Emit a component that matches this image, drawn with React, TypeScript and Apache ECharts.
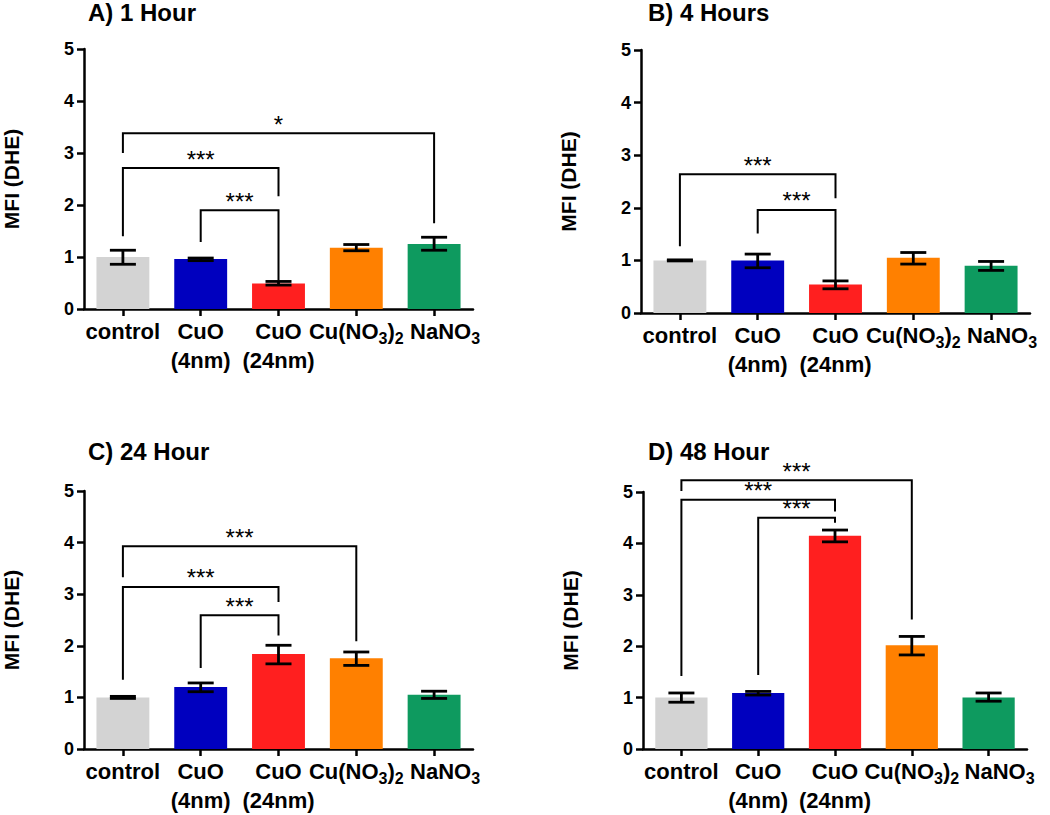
import React, { useEffect, useRef } from 'react';
import * as echarts from 'echarts';

const FONT = '"Liberation Sans", Arial, sans-serif';

const categories = ['control', 'CuO (4nm)', 'CuO (24nm)', 'Cu(NO3)2', 'NaNO3'];
const categoryLabels = [
  'control',
  'CuO\n(4nm)',
  'CuO\n(24nm)',
  '{m|Cu(NO}{s|3}{m|)}{s|2}',
  '{mr|NaNO}{s|3}',
];
const barColors = ['#d3d3d3', '#0000bf', '#ff1f1f', '#ff8000', '#0e9a5f'];
const panelTitles = ['A) 1 Hour', 'B) 4 Hours', 'C) 24 Hour', 'D) 48 Hour'];
const yAxisName = 'MFI (DHE)';

// Panel A – 1 hour
const meanA = [1.0, 0.96, 0.49, 1.18, 1.25];
const lowA = [0.86, 0.93, 0.46, 1.12, 1.13];
const highA = [1.13, 0.98, 0.53, 1.24, 1.38];
// Panel B – 4 hours
const meanB = [1.0, 1.0, 0.54, 1.05, 0.9];
const lowB = [0.99, 0.86, 0.46, 0.93, 0.81];
const highB = [1.01, 1.12, 0.61, 1.15, 0.98];
// Panel C – 24 hours
const meanC = [1.0, 1.2, 1.84, 1.76, 1.05];
const lowC = [0.98, 1.11, 1.65, 1.62, 0.98];
const highC = [1.02, 1.28, 2.01, 1.88, 1.12];
// Panel D – 48 hours
const meanD = [1.0, 1.09, 4.15, 2.02, 1.0];
const lowD = [0.91, 1.05, 4.03, 1.83, 0.93];
const highD = [1.09, 1.12, 4.26, 2.19, 1.09];

// significance brackets: [fromIndex, toIndex, topValue, leftLegBottom, rightLegBottom]
const bracketsA = [[0, 4, 3.38, 3.0, 1.65], [0, 2, 2.71, 1.4, 2.17], [1, 2, 1.9, 1.29, 0.55]];
const starsA = ['*', '***', '***'];
const bracketsB = [[0, 2, 2.64, 1.27, 2.18], [1, 2, 1.96, 1.51, 0.62]];
const starsB = ['***', '***'];
const bracketsC = [[0, 3, 3.93, 3.33, 2.09], [0, 2, 3.14, 1.34, 2.85], [1, 2, 2.59, 1.57, 2.2]];
const starsC = ['***', '***', '***'];
const bracketsD = [[0, 3, 5.23, 5.02, 2.52], [0, 2, 4.85, 1.42, 4.62], [1, 2, 4.5, 1.44, 4.4]];
const starsD = ['***', '***', '***'];

const panels = [
  { mean: meanA, low: lowA, high: highA, brackets: bracketsA, stars: starsA },
  { mean: meanB, low: lowB, high: highB, brackets: bracketsB, stars: starsB },
  { mean: meanC, low: lowC, high: highC, brackets: bracketsC, stars: starsC },
  { mean: meanD, low: lowD, high: highD, brackets: bracketsD, stars: starsD },
];

const gridLayout = [
  { left: 83, top: 49, width: 390, height: 260 },
  { left: 641, top: 50, width: 389, height: 263 },
  { left: 83, top: 491, width: 390, height: 261 },
  { left: 643, top: 492, width: 384, height: 260 },
];
const titleLayout = [
  { left: 88, top: 0 },
  { left: 648, top: 0 },
  { left: 88, top: 439 },
  { left: 648, top: 439 },
];

function buildOption() {
  const grid = gridLayout.map((g) => ({ ...g, containLabel: false }));
  const title = panelTitles.map((t, i) => ({
    text: t,
    left: titleLayout[i].left,
    top: titleLayout[i].top,
    padding: 0,
    textStyle: { fontFamily: FONT, fontWeight: 'bold', fontSize: 24, lineHeight: 24, color: '#000' },
  }));
  const xAxis = panels.map((_, i) => ({
    type: 'category',
    gridIndex: i,
    data: categories,
    axisLine: { show: true, lineStyle: { color: '#000', width: 2.5 } },
    axisTick: { show: true, alignWithLabel: true, length: 7, lineStyle: { color: '#000', width: 2.5 } },
    axisLabel: {
      interval: 0,
      margin: 8,
      color: '#000',
      fontFamily: FONT,
      fontWeight: 'bold',
      fontSize: 22,
      lineHeight: 29,
      formatter: (_v: string, idx: number) => categoryLabels[idx],
      rich: {
        m: { fontFamily: FONT, fontWeight: 'bold', fontSize: 22, lineHeight: 29, color: '#000' },
        mr: { fontFamily: FONT, fontWeight: 'bold', fontSize: 22, lineHeight: 29, color: '#000', padding: [0, 0, 0, 22] },
        s: { fontFamily: FONT, fontWeight: 'bold', fontSize: 16, lineHeight: 6, verticalAlign: 'bottom', color: '#000' },
      },
    },
    splitLine: { show: false },
  }));
  const yAxis = panels.map((_, i) => ({
    type: 'value',
    gridIndex: i,
    min: 0,
    max: 5,
    interval: 1,
    name: yAxisName,
    nameLocation: 'middle',
    nameGap: 62,
    nameTextStyle: { fontFamily: FONT, fontWeight: 'bold', fontSize: 21, color: '#000' },
    axisLine: { show: true, lineStyle: { color: '#000', width: 2.5 } },
    axisTick: { show: true, length: 7, lineStyle: { color: '#000', width: 2.5 } },
    axisLabel: { color: '#000', fontFamily: FONT, fontWeight: 'bold', fontSize: 18, margin: 10 },
    splitLine: { show: false },
  }));
  const series: any[] = [];
  panels.forEach((p, i) => {
    series.push({
      type: 'bar',
      xAxisIndex: i,
      yAxisIndex: i,
      barWidth: '68%',
      data: p.mean,
      itemStyle: { color: (params: any) => barColors[params.dataIndex] },
      z: 2,
    });
    series.push({
      type: 'custom',
      xAxisIndex: i,
      yAxisIndex: i,
      z: 3,
      encode: { x: 0, y: [1, 2] },
      data: p.mean.map((_, k) => [k, p.low[k], p.high[k]]),
      renderItem: (_params: any, api: any) => {
        const x = api.value(0);
        const lo = api.coord([x, api.value(1)]);
        const hi = api.coord([x, api.value(2)]);
        const half = 13;
        const st = { stroke: '#000', lineWidth: 2.8 };
        return {
          type: 'group',
          children: [
            { type: 'line', shape: { x1: lo[0], y1: lo[1], x2: hi[0], y2: hi[1] }, style: st },
            { type: 'line', shape: { x1: lo[0] - half, y1: lo[1], x2: lo[0] + half, y2: lo[1] }, style: st },
            { type: 'line', shape: { x1: hi[0] - half, y1: hi[1], x2: hi[0] + half, y2: hi[1] }, style: st },
          ],
        };
      },
    });
    series.push({
      type: 'custom',
      xAxisIndex: i,
      yAxisIndex: i,
      z: 4,
      clip: false,
      encode: { x: [0, 1], y: [2, 3, 4] },
      data: p.brackets,
      renderItem: (params: any, api: any) => {
        const a = api.coord([api.value(0), api.value(2)]);
        const b = api.coord([api.value(1), api.value(2)]);
        const la = api.coord([api.value(0), api.value(3)]);
        const rb = api.coord([api.value(1), api.value(4)]);
        return {
          type: 'group',
          children: [
            {
              type: 'polyline',
              shape: { points: [[a[0], la[1]], [a[0], a[1]], [b[0], b[1]], [b[0], rb[1]]] },
              style: { stroke: '#000', lineWidth: 2, fill: 'none' },
            },
            {
              type: 'text',
              x: (a[0] + b[0]) / 2,
              y: a[1] - 9,
              style: {
                text: p.stars[params.dataIndex],
                fontFamily: FONT,
                fontSize: 24,
                fill: '#000',
                align: 'center',
                verticalAlign: 'middle',
              },
            },
          ],
        };
      },
    });
  });
  return {
    animation: false,
    backgroundColor: '#fff',
    title,
    grid,
    xAxis,
    yAxis,
    series,
  };
}

export default function App() {
  const ref = useRef<HTMLDivElement>(null);
  useEffect(() => {
    document.body.style.margin = '0';
    if (!ref.current) return;
    const chart = echarts.init(ref.current, undefined, { renderer: 'svg' });
    chart.setOption(buildOption() as any);
    return () => chart.dispose();
  }, []);
  return <div ref={ref} style={{ width: 1050, height: 815 }} />;
}
